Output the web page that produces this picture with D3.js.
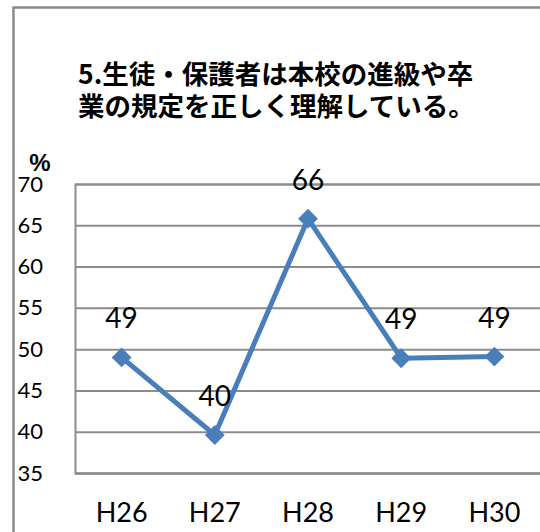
<!DOCTYPE html>
<html>
<head>
<meta charset="utf-8">
<script src="https://cdn.jsdelivr.net/npm/d3@7"></script>
<style>
  html, body { margin: 0; padding: 0; background: #fff; }
  svg { display: block; }
</style>
</head>
<body>
<svg id="chart" width="540" height="532"></svg>
<script>
// Survey result by fiscal year (percent agreeing)
const years = ["H26", "H27", "H28", "H29", "H30"];
const rates = [49.0, 39.6, 65.8, 48.9, 49.1];
const yTicks = [35, 40, 45, 50, 55, 60, 65, 70];
const titleLines = ["5.生徒・保護者は本校の進級や卒", "業の規定を正しく理解している。"];
const unitLabel = "%";

const svg = d3.select("#chart");
const numFont = "Lato, 'Liberation Sans', sans-serif";
const cjkFont = "'Noto Sans CJK JP', 'Noto Sans', sans-serif";
const blue = "#4a7ebb";
const gridColor = "#8c8c8c";

// Chart frame
svg.append("rect")
  .attr("x", 13.5).attr("y", 7.5)
  .attr("width", 600).attr("height", 600)
  .attr("fill", "none")
  .attr("stroke", "#8a8a8a")
  .attr("stroke-width", 2.5);

// Title
svg.append("g")
  .selectAll("text")
  .data(titleLines)
  .join("text")
  .attr("x", 78)
  .attr("y", (d, i) => 84 + i * 32)
  .attr("font-family", cjkFont)
  .attr("font-weight", "bold")
  .attr("font-size", 26.5)
  .attr("fill", "#000")
  .text(d => d);

const plot = { left: 75, right: 541, top: 184, bottom: 473 };

const x = d3.scaleBand()
  .domain(years)
  .range([plot.left, plot.right]);

const y = d3.scaleLinear()
  .domain([35, 70])
  .range([plot.bottom, plot.top]);

// Horizontal gridlines with value labels
const yAxis = d3.axisLeft(y)
  .tickValues(yTicks)
  .tickSize(-(plot.right - plot.left))
  .tickPadding(32)
  .tickFormat(d3.format("d"));

const gy = svg.append("g")
  .attr("transform", `translate(${plot.left},0)`)
  .call(yAxis);
gy.select(".domain").attr("stroke", gridColor).attr("stroke-width", 2);
gy.selectAll(".tick line").attr("stroke", gridColor).attr("stroke-width", 2);
gy.selectAll(".tick text")
  .attr("x", -32)
  .attr("font-family", numFont)
  .attr("font-size", 22)
  .attr("fill", "#000");

// Category labels
const xAxis = d3.axisBottom(x).tickSize(0).tickPadding(30);
const gx = svg.append("g")
  .attr("transform", `translate(0,${plot.bottom})`)
  .call(xAxis);
gx.select(".domain").attr("stroke", gridColor).attr("stroke-width", 2);
gx.selectAll(".tick text")
  .attr("font-family", numFont)
  .attr("font-size", 27)
  .attr("fill", "#000");

// Unit label
svg.append("text")
  .attr("x", 40)
  .attr("y", 171)
  .attr("text-anchor", "middle")
  .attr("font-family", "'Liberation Sans', Arial, sans-serif")
  .attr("font-weight", "bold")
  .attr("font-size", 24)
  .attr("fill", "#000")
  .text(unitLabel);

const points = years.map((yr, i) => ({ year: yr, value: rates[i] }));
const cx = d => x(d.year) + x.bandwidth() / 2;

// Trend line
svg.append("path")
  .datum(points)
  .attr("fill", "none")
  .attr("stroke", blue)
  .attr("stroke-width", 5)
  .attr("stroke-linejoin", "round")
  .attr("d", d3.line().x(cx).y(d => y(d.value)));

// Diamond markers
svg.append("g")
  .selectAll("path")
  .data(points)
  .join("path")
  .attr("transform", d => `translate(${cx(d)},${y(d.value)}) rotate(45)`)
  .attr("d", d3.symbol(d3.symbolSquare, 196)())
  .attr("fill", blue);

// Value labels
svg.append("g")
  .selectAll("text")
  .data(points)
  .join("text")
  .attr("x", cx)
  .attr("y", d => y(d.value) - 29)
  .attr("text-anchor", "middle")
  .attr("font-family", numFont)
  .attr("font-size", 28)
  .attr("fill", "#000")
  .text(d => d3.format(".0f")(d.value));
</script>
</body>
</html>
